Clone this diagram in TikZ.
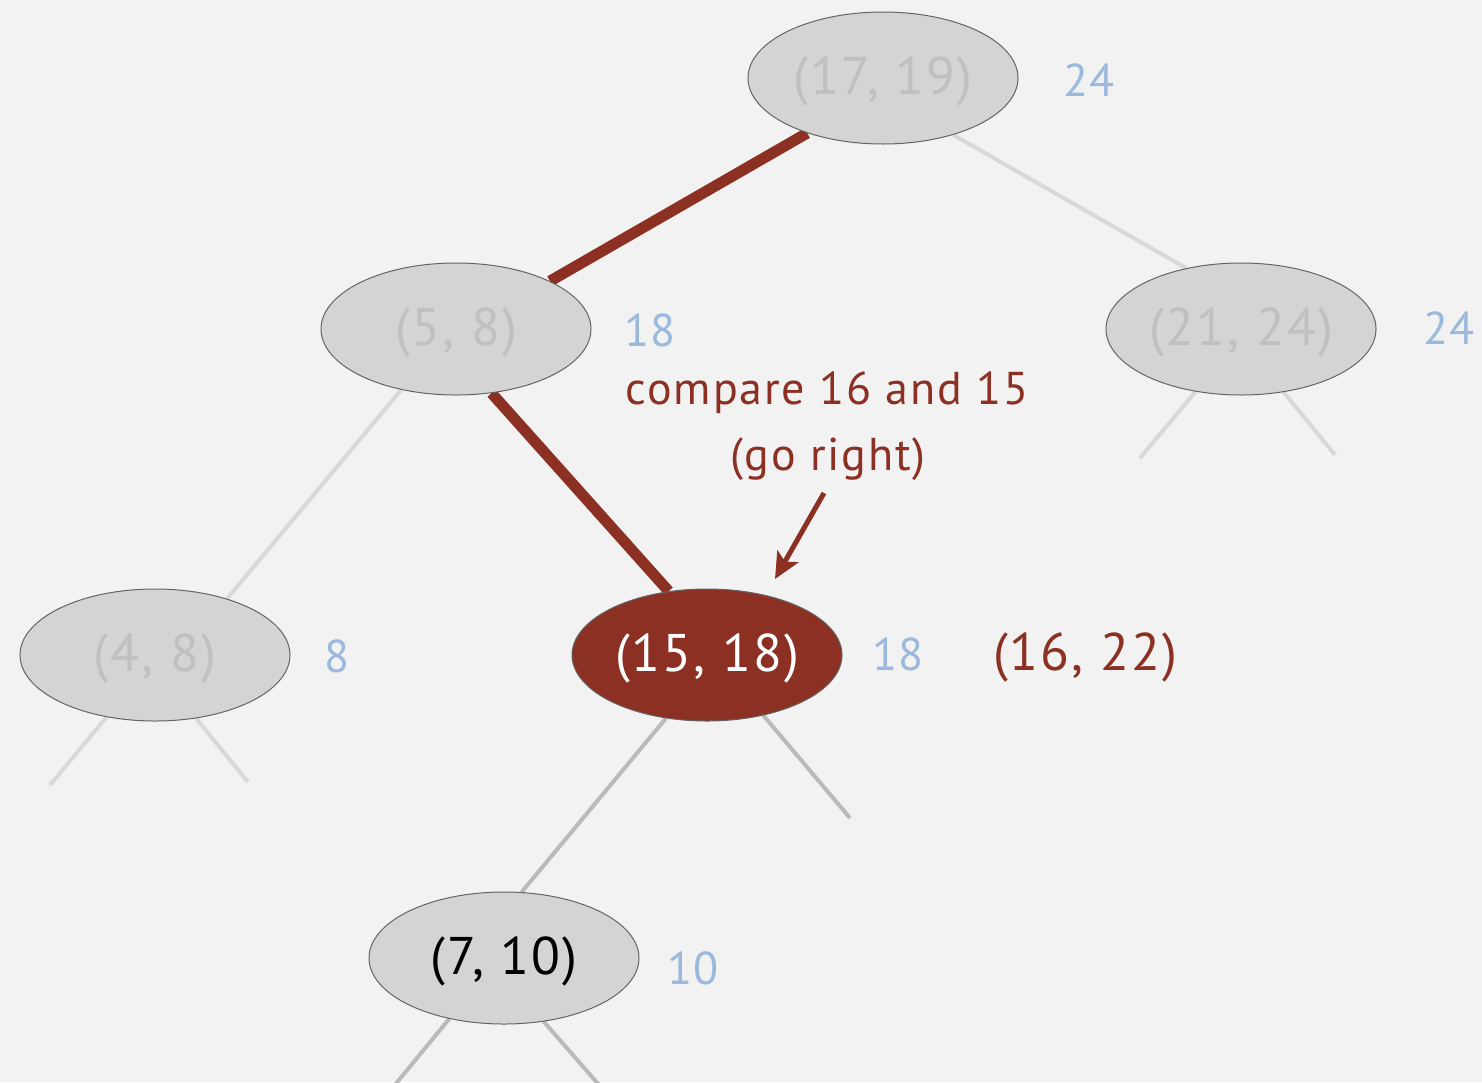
\documentclass[tikz,border=0pt]{standalone}
\usepackage{fontspec}
\setmainfont{PT Sans}[LetterSpace=4]
\usetikzlibrary{shapes.geometric,arrows.meta,backgrounds}
\definecolor{bgc}{RGB}{242,242,242}
\definecolor{nodefill}{RGB}{212,212,212}
\definecolor{nodeborder}{RGB}{100,100,100}
\definecolor{ghost}{RGB}{192,192,192}
\definecolor{maxblue}{RGB}{155,185,220}
\definecolor{hired}{RGB}{139,48,35}
\definecolor{faintedge}{RGB}{216,216,216}
\definecolor{midedge}{RGB}{186,186,186}
\newcommand{\lowertxt}[1]{\raisebox{-3pt}[\height][\depth]{#1}}
\begin{document}
\begin{tikzpicture}[x=1pt,y=-1pt,
  font=\fontsize{46}{56}\selectfont,
  big/.style={font=\fontsize{53}{62}\selectfont},
  tnode/.style={ellipse, draw=nodeborder, line width=1pt, fill=nodefill,
    minimum width=270pt, minimum height=132pt, inner sep=0pt, text=ghost, big},
  hotnode/.style={tnode, fill=hired, text=white},
  curnode/.style={tnode, text=black},
  maxlab/.style={text=maxblue, inner sep=0pt},
  faint/.style={draw=faintedge, line width=4pt},
  mid/.style={draw=midedge, line width=4pt},
  hot/.style={draw=hired, line width=11pt},
  note/.style={text=hired, inner sep=0pt}]
\useasboundingbox (0,0) rectangle (1482,1082);

% nodes
\node[tnode] (r)   at (883,78)  {\lowertxt{(17, 19)}};
\node[tnode] (a)   at (456,329) {\lowertxt{(5, 8)}};
\node[tnode] (b)   at (1241,329) {\lowertxt{(21, 24)}};
\node[tnode] (c)   at (155,655) {\lowertxt{(4, 8)}};
\node[hotnode] (d) at (707,655) {\lowertxt{(15, 18)}};
\node[curnode] (e) at (504,958) {\lowertxt{(7, 10)}};

% max labels
\node[maxlab] (mr) at (1089,80)  {24};
\node[maxlab] (ma) at (650,330)  {18};
\node[maxlab] (mb) at (1449,328) {24};
\node[maxlab] (mc) at (337,656)  {8};
\node[maxlab] (md) at (898,654)  {18};
\node[maxlab] (me) at (693,968)  {10};

% query and note
\node[note, big] (q)  at (1085,657) {(16, 22)};
\node[note] (n1) at (827,393) {compare 16 and 15};
\node[note] (n2) at (828,459) {(go right)};

% stub ends
\coordinate (b1) at (1140,458);
\coordinate (b2) at (1335,455);
\coordinate (c1) at (50,785);
\coordinate (c2) at (248,782);
\coordinate (d2) at (850,818);
\coordinate (e1) at (394,1086);
\coordinate (e2) at (600,1086);
\coordinate (ar1) at (824,493);
\coordinate (ar2) at (775,579);

\begin{scope}[on background layer]
  \fill[bgc] (0,0) rectangle (1482,1082);
  \draw[faint] (r.321.6) -- (b.132.6);
  \draw[faint] (a.228.4) -- (c.38.5);
  \draw[faint] (b.234.3) -- (b1);
  \draw[faint] (b.304.5) -- (b2);
  \draw[faint] (c.232.7) -- (c1);
  \draw[faint] (c.303.7) -- (c2);
  \draw[mid] (d.237) -- (e.75);
  \draw[mid] (d.313) -- (d2);
  \draw[mid] (e.228.9) -- (e1);
  \draw[mid] (e.302.6) -- (e2);
  \draw[hot] (r.216.3) -- (a.27.8);
  \draw[hot] (a.299.7) -- (d.121.8);
\end{scope}

\draw[hired, line width=5pt, -{Stealth[length=26pt,width=24pt,inset=6pt]}] (ar1) -- (ar2);
\end{tikzpicture}
\end{document}
